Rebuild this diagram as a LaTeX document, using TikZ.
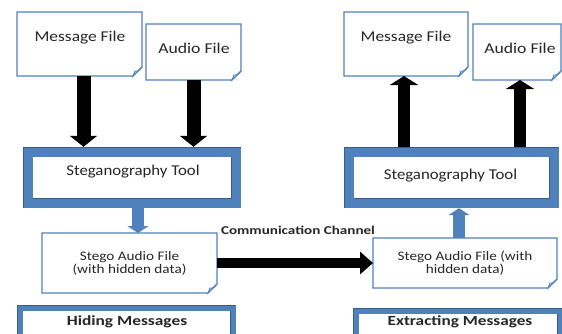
\documentclass[tikz,border=0pt]{standalone}
\usepackage{fontspec}
\setmainfont{Carlito}
\usetikzlibrary{arrows.meta}
\definecolor{bfill}{HTML}{4F81BD}
\definecolor{bline}{HTML}{385D8A}
\definecolor{txt}{HTML}{262626}
\newcommand\sx[2]{\scalebox{#1}[1]{#2}}
\newcommand\foldc[1]{%
 \draw[line width=1.3pt, draw=bfill, fill=white] (#1.north west) -- (#1.north east) -- ([yshift=9pt]#1.south east) -- ([xshift=-9pt]#1.south east) -- (#1.south west) -- cycle;
 \draw[line width=0.9pt, draw=bfill, fill=bfill!30] ([yshift=9pt]#1.south east) .. controls ([xshift=-3pt,yshift=5pt]#1.south east) .. ([xshift=-7pt,yshift=5pt]#1.south east) -- ([xshift=-9pt]#1.south east) -- cycle;
}
\tikzset{
 docbox/.style={draw=none, inner sep=0pt, outer sep=0pt},
 toolbox/.style={draw=bline, double=bfill, double distance=9pt, line width=0.7pt, fill=white, inner sep=0pt, outer sep=5.2pt},
 lblbox/.style={draw=bline, double=bfill, double distance=5pt, line width=0.5pt, fill=white, inner sep=0pt, outer sep=3pt},
 tx/.style={text=txt, inner sep=0pt, align=center},
 bigtx/.style={tx, font=\fontsize{15}{18}\selectfont},
 smalltx/.style={tx, font=\fontsize{13}{13}\selectfont},
 boldtx/.style={tx, font=\bfseries\fontsize{14}{16}\selectfont},
 blkdown/.style={draw=black, line width=14pt, -{Triangle[width=27pt,length=11pt]}},
 blkup/.style={draw=black, line width=11.5pt, -{Triangle[width=28pt,length=9pt]}},
 blkright/.style={draw=black, line width=10pt, -{Triangle[width=22pt,length=13pt]}},
 bluearr/.style={draw=bfill, line width=12pt, -{Triangle[width=21pt,length=7pt]}},
}
\begin{document}
\begin{tikzpicture}[x=1pt,y=-1pt]
\useasboundingbox (0,0) rectangle (562,333);
\clip (0,0) rectangle (562,333);
\fill[white] (0,0) rectangle (562,333);

% ---- left side: hiding
\node[docbox, minimum width=125pt, minimum height=64pt] (msgL) at (79.5,44) {};
\foldc{msgL}
\node[bigtx] (msgLt) at (80,38) {\sx{1.16}{Message File}};
\node[docbox, minimum width=95pt, minimum height=56pt] (audL) at (193.5,52) {};
\foldc{audL}
\node[bigtx] (audLt) at (194,48) {\sx{1.18}{Audio File}};
\node[toolbox, minimum width=208pt, minimum height=51pt] (toolL) at (132,177.5) {};
\node[bigtx] (toolLt) at (133,172) {\sx{1.12}{Steganography Tool}};
\node[docbox, minimum width=175pt, minimum height=60pt] (stegL) at (129.5,263) {};
\foldc{stegL}
\node[smalltx] (stegLt) at (129.5,263.5) {\sx{1.17}{Stego Audio File}\\\sx{1.17}{(with hidden data)}};
\node[lblbox, minimum width=213pt, minimum height=37pt] (hide) at (126.5,326.5) {};
\node[boldtx] (hidet) at (127,322) {\sx{1.24}{Hiding Messages}};

% ---- right side: extracting
\node[docbox, minimum width=124pt, minimum height=64pt] (msgR) at (406,44) {};
\foldc{msgR}
\node[bigtx] (msgRt) at (406,38) {\sx{1.16}{Message File}};
\node[docbox, minimum width=88pt, minimum height=56pt] (audR) at (517,52) {};
\foldc{audR}
\node[bigtx] (audRt) at (520,48) {\sx{1.18}{Audio File}};
\node[toolbox, minimum width=205pt, minimum height=51pt] (toolR) at (451.5,177.5) {};
\node[bigtx] (toolRt) at (450.5,176) {\sx{1.12}{Steganography Tool}};
\node[docbox, minimum width=184pt, minimum height=50pt] (stegR) at (465,263) {};
\foldc{stegR}
\node[smalltx] (stegRt) at (465,263.5) {\sx{1.17}{Stego Audio File (with}\\\sx{1.17}{hidden data)}};
\node[lblbox, minimum width=204pt, minimum height=37pt] (ext) at (458,329.5) {};
\node[boldtx] (extt) at (460,322) {\sx{1.23}{Extracting Messages}};

% ---- connectors
\draw[blkdown] ([xshift=4pt]msgL.south) -- ([xshift=4pt]msgL.south |- toolL.north);
\draw[blkdown] (audL.south) -- (audL.south |- toolL.north);
\draw[bluearr] ([xshift=6pt]toolL.south) -- ([xshift=6pt]toolL.south |- stegL.north);
\draw[blkright] (stegL.east) -- (stegR.west);
\node[tx, font=\bfseries\fontsize{12}{14}\selectfont] (comm) at (298,230) {\sx{1.26}{Communication Channel}};
\draw[bluearr] ([xshift=-6pt]stegR.north) -- ([xshift=-6pt]stegR.north |- toolR.south);
\draw[blkup] ([xshift=-2pt]msgR.south |- toolR.north) -- ([xshift=-2pt]msgR.south);
\draw[blkup] ([xshift=3pt]audR.south |- toolR.north) -- ([xshift=3pt]audR.south);
\end{tikzpicture}
\end{document}
